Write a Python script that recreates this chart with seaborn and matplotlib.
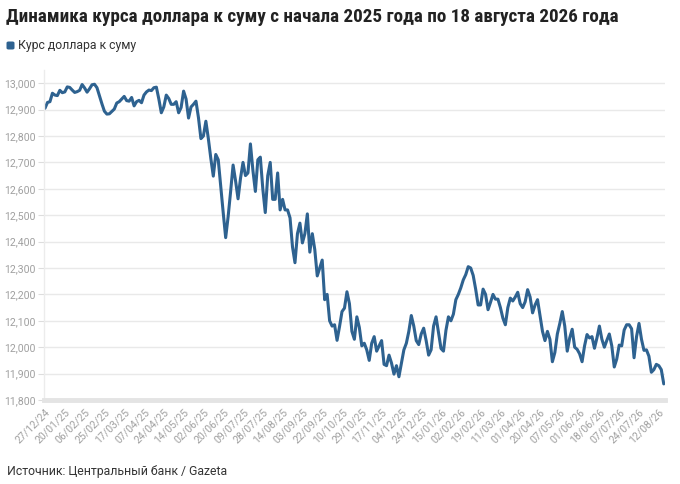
import matplotlib
matplotlib.use("Agg")
import matplotlib.pyplot as plt
from matplotlib import font_manager
from matplotlib.patches import FancyBboxPatch
from matplotlib.ticker import FuncFormatter
import pandas as pd
import seaborn as sns

# ------------------------------------------------------------------
# data
# ------------------------------------------------------------------
title = "Динамика курса доллара к суму с начала 2025 года по 18 августа 2026 года"
series_name = "Курс доллара к суму"
source = "Источник: Центральный банк / Gazeta"

tick_labels = [
    "27/12/24", "20/01/25", "06/02/25", "25/02/25", "17/03/25", "07/04/25",
    "24/04/25", "14/05/25", "02/06/25", "20/06/25", "09/07/25", "28/07/25",
    "14/08/25", "03/09/25", "22/09/25", "10/10/25", "29/10/25", "17/11/25",
    "04/12/25", "24/12/25", "15/01/26", "02/02/26", "19/02/26", "11/03/26",
    "01/04/26", "20/04/26", "07/05/26", "01/06/26", "18/06/26", "07/07/26",
    "24/07/26", "12/08/26",
]
points_per_tick = 8

rate = [
    12905, 12927, 12930, 12962, 12955, 12953, 12973, 12964,
    12967, 12986, 12984, 12974, 12965, 12968, 12973, 12995,
    12982, 12966, 12979, 12994, 12996, 12983, 12952, 12922,
    12894, 12883, 12884, 12893, 12902, 12925, 12930, 12940,
    12950, 12934, 12932, 12946, 12914, 12930, 12935, 12926,
    12955, 12967, 12974, 12972, 12983, 12985, 12940, 12888,
    12910, 12955, 12942, 12920, 12920, 12930, 12888, 12908,
    12970, 12940, 12868, 12910, 12920, 12932, 12870, 12790,
    12800, 12856, 12790, 12715, 12648, 12730, 12710, 12610,
    12510, 12415, 12495, 12590, 12690, 12630, 12562, 12640,
    12700, 12650, 12660, 12770, 12670, 12590, 12710, 12720,
    12600, 12510, 12650, 12700, 12560, 12560, 12660, 12520,
    12560, 12520, 12520, 12490, 12380, 12320, 12430, 12470,
    12395, 12430, 12505, 12360, 12430, 12370, 12270, 12300,
    12330, 12180, 12200, 12100, 12080, 12085, 12026, 12078,
    12135, 12148, 12210, 12165, 12060, 12030, 12115, 12075,
    12005, 12015, 11990, 11950, 12015, 12040, 11985, 12005,
    12025, 11935, 11930, 11970, 11940, 11898, 11930, 11888,
    11940, 11990, 12015, 12060, 12120, 12080, 12025, 12010,
    12050, 12072, 12025, 11970, 11990, 12080, 12115, 12055,
    11995, 11985, 12064, 12115, 12100, 12125, 12180, 12200,
    12225, 12255, 12275, 12305, 12300, 12272, 12220, 12160,
    12160, 12220, 12200, 12142, 12170, 12200, 12182, 12182,
    12150, 12110, 12085, 12150, 12186, 12175, 12190, 12208,
    12165, 12150, 12172, 12218, 12190, 12130, 12160, 12180,
    12120, 12060, 12025, 12060, 12030, 11945, 11980, 12050,
    12090, 12135, 12080, 11985, 12035, 12068, 12000, 11992,
    11975, 11945, 12005, 12048, 12035, 12040, 11996, 12035,
    12080, 12030, 12000, 12026, 12050, 12005, 11925, 11955,
    12008, 12005, 12065, 12085, 12085, 12070, 11960, 12040,
    12090, 12030, 11988, 11990, 11966, 11905, 11915, 11935,
    11930, 11915, 11861,
]

# ------------------------------------------------------------------
# style
# ------------------------------------------------------------------
sns.set_theme(style="white")
plt.rcParams["font.family"] = ["Roboto", "DejaVu Sans"]

installed = {f.name for f in font_manager.fontManager.ttflist}
title_font = next(
    (f for f in ["Roboto Condensed", "Liberation Sans Narrow", "Roboto"] if f in installed),
    "DejaVu Sans",
)

line_color = "#2e6290"
grid_color = "#e9e9e9"
tick_color = "#a0a0a0"

df = pd.DataFrame({"idx": range(len(rate)), "rate": rate})

fig = plt.figure(figsize=(6.8, 4.84), dpi=100)
ax = fig.add_axes([44 / 680, 1 - 400 / 484, (665 - 44) / 680, (400 - 70) / 484])

sns.lineplot(data=df, x="idx", y="rate", ax=ax, color=line_color,
             linewidth=2.2, solid_joinstyle="round", solid_capstyle="round")

ax.set_xlim(-0.4, len(rate) - 0.5)
ax.set_ylim(11800, 13050)
ax.set_yticks(range(11800, 13001, 100))
ax.yaxis.set_major_formatter(FuncFormatter(lambda v, _: f"{int(v):,}"))
ax.set_xticks(range(0, points_per_tick * len(tick_labels), points_per_tick))
ax.set_xticklabels(tick_labels, rotation=45, ha="right", rotation_mode="anchor")

ax.grid(axis="y", color=grid_color, linewidth=1.0)
ax.set_axisbelow(True)
for side in ["top", "right"]:
    ax.spines[side].set_visible(False)
ax.spines["left"].set_color("#ececec")
ax.spines["left"].set_linewidth(1.0)
ax.spines["bottom"].set_color("#e4e4e4")
ax.spines["bottom"].set_linewidth(3.5)

ax.tick_params(axis="y", labelsize=7.6, colors=tick_color, length=4, width=0.8,
               color="#dddddd", pad=2, left=True)
ax.tick_params(axis="x", labelsize=7.6, colors=tick_color, length=0, pad=5)
ax.set_xlabel("")
ax.set_ylabel("")

# title, scaled so it spans the same width as the reference
t = fig.text(6 / 680, 1 - 22 / 484, title, fontsize=15, fontweight="bold",
             family=[title_font, "DejaVu Sans"], color="#222222", va="baseline")
fig.canvas.draw()
w = t.get_window_extent().width
t.set_fontsize(15 * 614 / w)

# legend marker with rounded corners
fig.patches.append(FancyBboxPatch((6.5 / 680, 1 - 49.5 / 484), 8 / 680, 8 / 484,
                                  boxstyle="round,pad=0,rounding_size=0.003",
                                  transform=fig.transFigure, facecolor=line_color,
                                  edgecolor="none"))
fig.text(18 / 680, 1 - 45 / 484, series_name, fontsize=8.8, color="#333333",
         va="center")

# source
fig.text(7 / 680, 1 - 472 / 484, source, fontsize=8.8, color="#333333",
         va="center")

fig.savefig("out.png", dpi=100)
